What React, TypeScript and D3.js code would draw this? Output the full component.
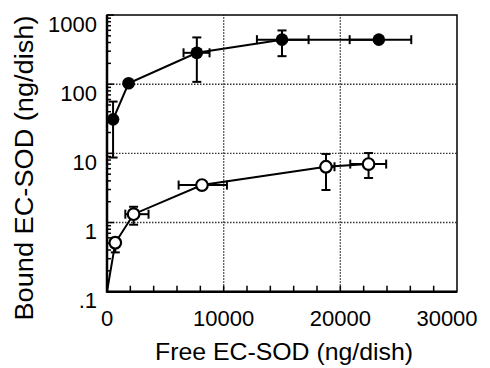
import React from "react";
import * as d3 from "d3";

// bound vs free EC-SOD
const filledX = [520, 1850, 7700, 15000, 23300];
const filledY = [31, 103, 284, 440, 440];
const filledYLo = [8.7, 103, 108, 254, 440];
const filledYHi = [56, 103, 474, 598, 440];
const filledXLo = [520, 1850, 6560, 12850, 20800];
const filledXHi = [520, 1850, 8790, 17280, 26080];

const openX = [0, 710, 2280, 8140, 18770, 22420];
const openY = [0.1, 0.51, 1.32, 3.48, 6.4, 7.0];
const openYLo = [0.1, 0.37, 0.93, 3.48, 2.95, 4.4];
const openYHi = [0.1, 0.6, 1.69, 3.48, 9.8, 10.1];
const openXLo = [0, 710, 1570, 6140, 18770, 20850];
const openXHi = [0, 710, 3560, 10280, 19500, 23930];
const openMarker = [false, true, true, true, true, true];

const xTicks = [0, 10000, 20000, 30000];
const yTicks = [0.1, 1, 10, 100, 1000];
const yTickLabels = [".1", "1", "10", "100", "1000"];
const xGrid = [10000, 20000];
const yGrid = [1, 10, 100];

const W = 490;
const H = 368;
const font = "'Liberation Sans', Arial, Helvetica, sans-serif";

const x = d3.scaleLinear().domain([0, 30000]).range([107, 457]);
const y = d3.scaleLog().domain([0.1, 1000]).range([291.7, 15]);

type Pt = { x: number; y: number; ylo: number; yhi: number; xlo: number; xhi: number; marker: boolean };

const filled: Pt[] = filledX.map((v, i) => ({
  x: v, y: filledY[i], ylo: filledYLo[i], yhi: filledYHi[i], xlo: filledXLo[i], xhi: filledXHi[i], marker: true,
}));
const open: Pt[] = openX.map((v, i) => ({
  x: v, y: openY[i], ylo: openYLo[i], yhi: openYHi[i], xlo: openXLo[i], xhi: openXHi[i], marker: openMarker[i],
}));

const line = d3.line<Pt>().x((d) => x(d.x)).y((d) => y(d.y));

const ErrorBars = ({ data }: { data: Pt[] }) => (
  <g stroke="#000" strokeWidth={2}>
    {data.filter((d) => d.marker).map((d, i) => (
      <g key={i}>
        {d.yhi > d.ylo && (
          <>
            <line x1={x(d.x)} x2={x(d.x)} y1={y(d.yhi)} y2={y(d.ylo)} />
            <line x1={x(d.x) - 4.5} x2={x(d.x) + 4.5} y1={y(d.yhi)} y2={y(d.yhi)} />
            <line x1={x(d.x) - 4.5} x2={x(d.x) + 4.5} y1={y(d.ylo)} y2={y(d.ylo)} />
          </>
        )}
        {d.xhi > d.xlo && (
          <>
            <line x1={x(d.xlo)} x2={x(d.xhi)} y1={y(d.y)} y2={y(d.y)} />
            <line x1={x(d.xlo)} x2={x(d.xlo)} y1={y(d.y) - 4.5} y2={y(d.y) + 4.5} />
            <line x1={x(d.xhi)} x2={x(d.xhi)} y1={y(d.y) - 4.5} y2={y(d.y) + 4.5} />
          </>
        )}
      </g>
    ))}
  </g>
);

const App = () => {
  const [x0, x1] = x.range();
  const [y0, y1] = y.range();
  const xMinor = d3.range(2000, 30000, 2000);
  const yMinor: number[] = [];
  [0.1, 1, 10, 100].forEach((d) => d3.range(2, 10).forEach((k) => yMinor.push(d * k)));

  return (
    <svg width={W} height={H} style={{ position: "absolute", left: 0, top: 0 }} fontFamily={font}>
      <rect width={W} height={H} fill="#fff" />

      {/* grid */}
      <g stroke="#333" strokeWidth={1.4} strokeDasharray="1.5,1.5">
        {xGrid.map((t) => (
          <line key={t} x1={x(t)} x2={x(t)} y1={y0} y2={y1} />
        ))}
        {yGrid.map((t) => (
          <line key={t} x1={x0} x2={x1} y1={y(t)} y2={y(t)} />
        ))}
      </g>

      {/* ticks */}
      <g stroke="#000" strokeWidth={1.5}>
        {xMinor.map((t) => (
          <line key={t} x1={x(t)} x2={x(t)} y1={y0} y2={y0 - 6} />
        ))}
        {yMinor.map((t, i) => (
          <line key={i} x1={x0} x2={x0 + 4} y1={y(t)} y2={y(t)} />
        ))}
        {yTicks.map((t) => (
          <line key={t} x1={x0} x2={x0 + 7} y1={y(t)} y2={y(t)} />
        ))}
      </g>

      {/* frame */}
      <rect x={x0} y={y1} width={x1 - x0} height={y0 - y1} fill="none" stroke="#000" strokeWidth={1.5} />
      <line x1={x0} x2={x0} y1={y1} y2={y0 + 1} stroke="#000" strokeWidth={2.5} />
      <line x1={x0} x2={x1} y1={y0} y2={y0} stroke="#000" strokeWidth={2.5} />

      {/* series lines */}
      <path d={line(filled) || ""} fill="none" stroke="#000" strokeWidth={2} />
      <path d={line(open) || ""} fill="none" stroke="#000" strokeWidth={2} />

      <ErrorBars data={filled} />
      <ErrorBars data={open} />

      {filled.map((d, i) => (
        <circle key={i} cx={x(d.x)} cy={y(d.y)} r={6.3} fill="#000" />
      ))}
      {open.filter((d) => d.marker).map((d, i) => (
        <circle key={i} cx={x(d.x)} cy={y(d.y)} r={5.8} fill="#fff" stroke="#000" strokeWidth={2.2} />
      ))}

      {/* tick labels */}
      <g fontSize={22} fill="#000">
        {yTicks.map((t, i) => (
          <text key={t} x={97} y={y(t) + 9} textAnchor="end" dominantBaseline="central">
            {yTickLabels[i]}
          </text>
        ))}
        {xTicks.map((t) => (
          <text key={t} x={Math.min(x(t), 447)} y={326} textAnchor="middle">
            {d3.format("d")(t)}
          </text>
        ))}
      </g>

      {/* axis titles */}
      <text x={284} y={360} textAnchor="middle" fontSize={24.5} textLength={258} lengthAdjust="spacingAndGlyphs">
        Free EC-SOD (ng/dish)
      </text>
      <text
        transform="translate(33,168) rotate(-90)"
        textAnchor="middle"
        fontSize={25}
        textLength={305}
        lengthAdjust="spacingAndGlyphs"
      >
        Bound EC-SOD (ng/dish)
      </text>
    </svg>
  );
};

export default App;
